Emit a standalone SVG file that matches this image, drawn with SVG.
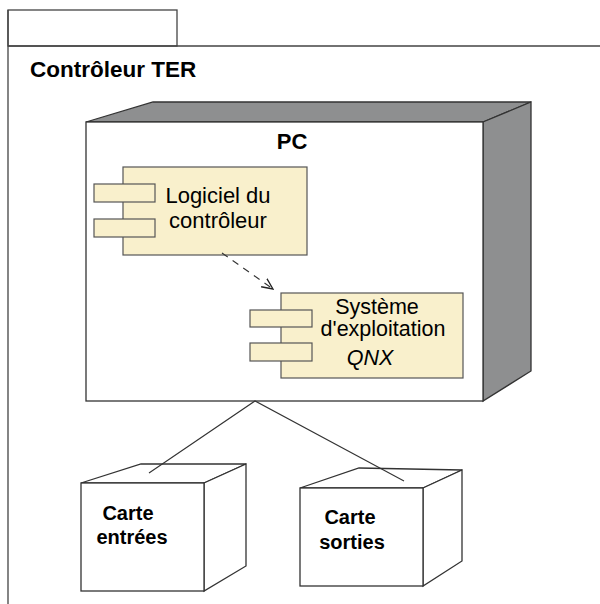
<svg xmlns="http://www.w3.org/2000/svg" width="600" height="604" viewBox="0 0 600 604">
<style>
.fr{fill:none;stroke:#444;stroke-width:1.3}
.front{fill:#fff;stroke:#333;stroke-width:1.3}
.side{fill:#8e8f90;stroke:#333;stroke-width:1.3}
.wside{fill:#fff;stroke:#333;stroke-width:1.3}
.comp{fill:#f9f0cc;stroke:#555;stroke-width:1.2}
.b{font-family:"Liberation Sans",Arial,sans-serif;font-weight:bold;fill:#000}
.n{font-family:"Liberation Sans",Arial,sans-serif;fill:#000}
.conn{fill:none;stroke:#333;stroke-width:1.1}
</style>
<defs>
<marker id="open" viewBox="0 0 12 12" refX="11" refY="6" markerWidth="12" markerHeight="12" markerUnits="userSpaceOnUse" orient="auto">
<path d="M0,1 L11,6 L0,11" fill="none" stroke="#222" stroke-width="1.3"/>
</marker>
</defs>
<g id="frame">
<rect x="8" y="10" width="169" height="36" class="fr"/>
<path d="M8,46 H600 M8,10 V604" class="fr"/>
<text x="30" y="77" class="b" font-size="22.5">Contrôleur TER</text>
</g>
<g id="pc">
<polygon points="86,122 153,102 531,102 483,122" class="side"/>
<polygon points="483,122 531,102 531,371 483,401" class="side"/>
<rect x="86" y="122" width="397" height="279" class="front"/>
<text x="292" y="149" class="b" font-size="22" text-anchor="middle">PC</text>
</g>
<g id="logiciel">
<rect x="123" y="167" width="184" height="88" class="comp"/>
<rect x="94" y="184" width="61" height="18" class="comp"/>
<rect x="94" y="219" width="61" height="18" class="comp"/>
<text x="218" y="203" class="n" font-size="22" text-anchor="middle">Logiciel du</text>
<text x="218" y="228" class="n" font-size="22" text-anchor="middle">contrôleur</text>
</g>
<g id="qnx">
<rect x="281" y="293" width="182" height="85" class="comp"/>
<rect x="250" y="310" width="62" height="17" class="comp"/>
<rect x="250" y="343" width="62" height="18" class="comp"/>
<text x="377" y="314" class="n" font-size="21.5" text-anchor="middle">Système</text>
<text x="383" y="336" class="n" font-size="21.5" text-anchor="middle">d'exploitation</text>
<text x="370" y="365" class="n" font-size="21.5" font-style="italic" text-anchor="middle">QNX</text>
</g>
<g id="entrees">
<polygon points="81,483 141,464 246,464 204,483" class="wside"/>
<polygon points="204,483 246,464 246,566 204,591" class="wside"/>
<rect x="81" y="483" width="123" height="108" class="front"/>
<text x="128" y="520" class="b" font-size="20" text-anchor="middle">Carte</text>
<text x="132" y="544" class="b" font-size="20" text-anchor="middle">entrées</text>
</g>
<g id="sorties">
<polygon points="300,488 359,468 462,470 423,488" class="wside"/>
<polygon points="423,488 462,470 462,561 423,586" class="wside"/>
<rect x="300" y="488" width="123" height="98" class="front"/>
<text x="350" y="524" class="b" font-size="20" text-anchor="middle">Carte</text>
<text x="352" y="549" class="b" font-size="20" text-anchor="middle">sorties</text>
</g>
<g id="connectors">
<path d="M222,253 L273,289" class="conn" stroke-dasharray="7,6" marker-end="url(#open)"/>
<path d="M149,473 L255,401 L404,481" class="conn"/>
</g>
</svg>
